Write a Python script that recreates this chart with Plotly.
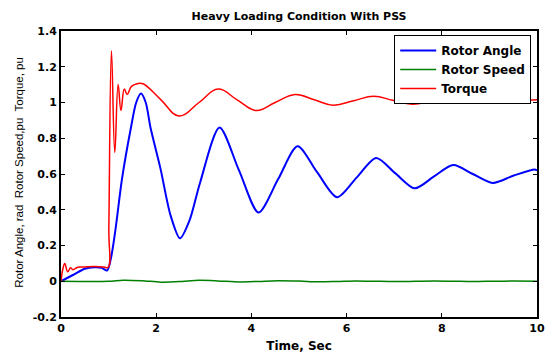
import plotly.graph_objects as go

# Time axis (s) and responses under heavy loading with PSS
angle_t = [0, 0.25, 0.5, 0.7, 0.85, 0.97, 1.05, 1.15, 1.28, 1.47, 1.58, 1.68, 1.78, 1.88,
           2.09, 2.3, 2.5, 2.7, 2.92, 3.33, 3.74, 4.15, 4.56, 4.97, 5.38, 5.8, 6.21, 6.62,
           7.02, 7.43, 7.83, 8.24, 8.65, 9.07, 9.5, 9.95, 10]
angle_v = [0, 0.035, 0.07, 0.078, 0.075, 0.06, 0.13, 0.3, 0.57, 0.86, 1.0, 1.05, 1.0, 0.86,
           0.63, 0.37, 0.24, 0.34, 0.55, 0.86, 0.62, 0.385, 0.57, 0.755, 0.61, 0.47, 0.58,
           0.69, 0.605, 0.52, 0.585, 0.65, 0.6, 0.55, 0.59, 0.625, 0.62]

speed_t = [0, 1.0, 1.3, 1.7, 2.1, 2.5, 2.9, 3.3, 3.75, 4.15, 4.55, 5.0, 5.4, 5.8, 6.2,
           6.6, 7.0, 7.45, 7.85, 8.25, 8.65, 9.1, 9.5, 10]
speed_v = [0, 0, 0.006, 0.003, -0.005, -0.002, 0.005, 0.002, -0.004, -0.001, 0.003, 0.001,
           -0.003, -0.001, 0.002, 0.0, -0.002, 0.0, 0.0015, 0.0, -0.0015, 0.0, 0.001, 0.0]

torque_t = [0, 0.04, 0.08, 0.14, 0.2, 0.25, 0.35, 0.5, 0.7, 0.9, 0.99, 1.005, 1.06, 1.13,
            1.2, 1.26, 1.33, 1.39, 1.48, 1.6, 1.72, 2.1, 2.48, 2.9, 3.3, 3.7, 4.1, 4.5,
            4.92, 5.32, 5.72, 6.15, 6.57, 6.97, 7.38, 7.8, 8.2, 8.6, 9.02, 9.5, 10]
torque_v = [0, 0.07, 0.1, 0.053, 0.075, 0.065, 0.078, 0.08, 0.082, 0.08, 0.078, 0.3, 1.29, 0.72,
            1.1, 0.955, 1.075, 1.045, 1.09, 1.105, 1.105, 1.015, 0.925, 1.0, 1.075, 1.015,
            0.955, 1.0, 1.045, 1.015, 0.985, 1.01, 1.035, 1.012, 0.99, 1.008, 1.025, 1.012,
            1.0, 1.008, 1.015]

x_ticks = [0, 2, 4, 6, 8, 10]
y_ticks = [-0.2, 0, 0.2, 0.4, 0.6, 0.8, 1, 1.2, 1.4]
y_tick_text = ["-0.2", "0", "0.2", "0.4", "0.6", "0.8", "1", "1.2", "1.4"]
y_title = "Rotor Angle, rad  Rotor Speed,pu  Torque, pu"

bold = dict(family="DejaVu Sans", size=11, color="black", weight="bold")

fig = go.Figure()
fig.add_trace(go.Scatter(x=angle_t, y=angle_v, mode="lines", name="Rotor Angle",
                         line=dict(color="#0000ff", width=2, shape="spline", smoothing=0.8)))
fig.add_trace(go.Scatter(x=speed_t, y=speed_v, mode="lines", name="Rotor Speed",
                         line=dict(color="#008000", width=1.5, shape="spline", smoothing=0.8)))
fig.add_trace(go.Scatter(x=torque_t, y=torque_v, mode="lines", name="Torque",
                         line=dict(color="#ff0000", width=1.5, shape="spline", smoothing=1.2)))

axis_common = dict(showgrid=False, zeroline=False, showline=True, linecolor="black",
                   linewidth=2, mirror="ticks", ticks="inside", ticklen=4, tickwidth=1,
                   tickcolor="black", tickfont=bold, ticklabeloverflow="allow")

fig.update_layout(
    width=545, height=354,
    margin=dict(l=61, r=0, t=31, b=37),
    paper_bgcolor="white", plot_bgcolor="white",
    title=dict(text="Heavy Loading Condition With PSS", x=0.5, xref="paper",
               y=1 - 16 / 354, yref="container", yanchor="middle", xanchor="center",
               font=dict(family="DejaVu Sans", size=11, color="black", weight="bold")),
    xaxis=dict(range=[0, 10], tickvals=x_ticks, ticktext=[str(v) for v in x_ticks],
               title=dict(text="Time, Sec", standoff=7,
                          font=dict(family="DejaVu Sans", size=12, color="black", weight="bold")),
               **axis_common),
    yaxis=dict(range=[-0.2, 1.4], tickvals=y_ticks, ticktext=y_tick_text, **axis_common),
    legend=dict(x=0.7, y=0.986, xanchor="left", yanchor="top", bgcolor="white",
                bordercolor="black", borderwidth=1,
                font=dict(family="DejaVu Sans", size=12, color="black", weight="bold"),
                itemwidth=36, tracegroupgap=0),
    showlegend=True,
)

# Rotated y-axis caption placed beside the tick labels
fig.add_annotation(text=y_title, textangle=-90, showarrow=False,
                   xref="paper", yref="paper", x=-43 / 484, y=(317 - 172) / 286,
                   xanchor="center", yanchor="middle",
                   font=dict(family="Liberation Sans", size=11.5, color="black"))

fig.write_html("out.html")
